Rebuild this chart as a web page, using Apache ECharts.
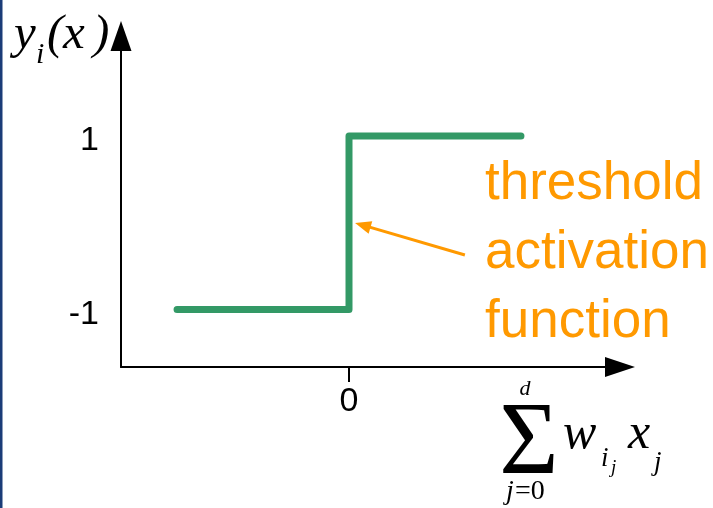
<!DOCTYPE html>
<html>
<head>
<meta charset="utf-8">
<script src="https://cdn.jsdelivr.net/npm/echarts@6/dist/echarts.min.js"></script>
<style>
  html, body { margin: 0; padding: 0; background: #fff; }
  #chart { width: 713px; height: 508px; }
</style>
</head>
<body>
<div id="chart"></div>
<script>
// step function: -1 below zero, 1 above
const stepX = [-1, 0, 0, 1];
const stepY = [-1, -1, 1, 1];
const xTicks = [0];
const yTicks = [-1, 1];
// annotation arrow, from text to the step (data units)
const arrowFrom = [0.674, -0.372];
const arrowTo = [0.080, -0.028];
const noteLines = ["threshold", "activation", "function"];

const green = "#339966";
const orange = "#ff9900";
const serif = "Liberation Serif";
const sans = "Liberation Sans";

const chart = echarts.init(document.getElementById("chart"));

// text placed by its baseline (zrender draws with 'middle')
function txt(s, x, base, size, opts) {
    opts = opts || {};
    const asc = opts.sans ? 0.905 : 0.891, desc = opts.sans ? 0.212 : 0.216;
    return {
        type: "text",
        x: x,
        y: base - (asc - desc) / 2 * size + 0.075 * size,
        scaleX: opts.scaleX || 1,
        silent: true,
        style: {
            text: s,
            x: 0,
            y: 0,
            align: opts.align || "left",
            verticalAlign: "middle",
            fill: opts.color || "#000",
            font: (opts.italic ? "italic " : "") + size + "px '" + (opts.sans ? sans : serif) + "'"
        }
    };
}

const graphics = [
    { type: "rect", shape: { x: 0, y: 0, width: 2.5, height: 508 }, style: { fill: "#1b3c78" }, silent: true },
    // y_i(x)
    txt("y", 14, 48, 49, { italic: true }),
    txt("i", 36, 63, 30, { italic: true }),
    txt("(", 47, 48, 49, { italic: true }),
    txt("x", 63, 48, 49, { italic: true }),
    txt(")", 93, 48, 49, { italic: true }),
    // sum_{j=0}^{d} w_{i_j} x_j
    txt("Σ", 529, 473, 104, { align: "center", scaleX: 0.98 }),
    txt("d", 525, 395, 22, { italic: true, align: "center" }),
    txt("j", 506, 499, 28, { italic: true }),
    txt("=0", 515, 499, 28, {}),
    txt("w", 563, 448, 50, { italic: true }),
    txt("i", 601, 466, 27, { italic: true }),
    txt("j", 611, 473, 19, { italic: true }),
    txt("x", 628, 448, 50, { italic: true }),
    txt("j", 654, 470, 27, { italic: true })
];
noteLines.forEach((s, i) => {
    graphics.push(txt(s, 485, 199 + i * 69, 53, { sans: true, color: orange }));
});

const option = {
    animation: false,
    backgroundColor: "#fff",
    grid: { left: 121, right: 93, top: 36, bottom: 141 },
    xAxis: {
        type: "value",
        min: -1.326,
        max: 1.576,
        axisLine: {
            onZero: false,
            symbol: ["none", "triangle"],
            symbolSize: [20, 30],
            lineStyle: { color: "#000", width: 2 }
        },
        axisTick: { show: true, customValues: xTicks, length: 15, lineStyle: { color: "#000", width: 2 } },
        axisLabel: { customValues: xTicks, fontSize: 34, fontFamily: sans, color: "#000", margin: 18 },
        splitLine: { show: false }
    },
    yAxis: {
        type: "value",
        min: -1.663,
        max: 2.153,
        axisLine: {
            onZero: false,
            symbol: ["none", "triangle"],
            symbolSize: [21, 30],
            lineStyle: { color: "#000", width: 2 }
        },
        axisTick: { show: false },
        axisLabel: {
            customValues: yTicks, fontSize: 34, fontFamily: sans, color: "#000",
            margin: 22, verticalAlign: "top", lineHeight: 10
        },
        splitLine: { show: false }
    },
    series: [{
        type: "line",
        data: stepX.map((x, i) => [x, stepY[i]]),
        showSymbol: false,
        silent: true,
        lineStyle: { color: green, width: 7, cap: "round", join: "round" },
        markLine: {
            silent: true,
            symbol: ["none", "triangle"],
            symbolSize: [13, 16],
            label: { show: false },
            lineStyle: { color: orange, width: 3, type: "solid" },
            data: [[{ coord: arrowFrom }, { coord: arrowTo }]]
        }
    }],
    graphic: graphics
};
chart.setOption(option);
</script>
</body>
</html>
